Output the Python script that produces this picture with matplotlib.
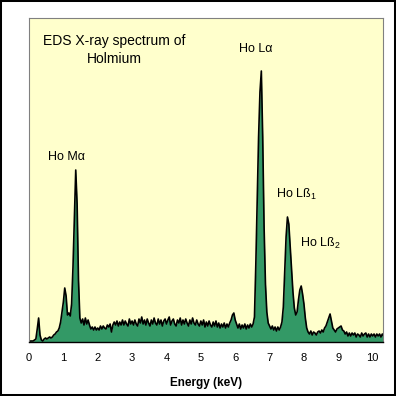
import numpy as np
import matplotlib
matplotlib.use("Agg")
import matplotlib.pyplot as plt
from matplotlib.patches import Rectangle

plt.rcParams['font.family'] = ['Liberation Sans', 'DejaVu Sans']
plt.rcParams['mathtext.fontset'] = 'custom'
plt.rcParams['mathtext.rm'] = 'Liberation Sans'
plt.rcParams['mathtext.it'] = 'Liberation Sans'

# channel width (keV) and counts, one row per keV
step = 0.04
counts = [
    0, 1, 1, 1, 2, 3, 13, 24, 7, 2, 1, 3, 4, 3, 4, 5, 4, 5, 7, 8, 10, 11, 14, 20, 30,
    40, 54, 46, 27, 29, 26, 38, 75, 123, 172, 138, 62, 24, 19, 23, 17, 24, 18, 22, 17, 13, 15, 12, 15, 12,
    14, 12, 16, 13, 16, 14, 13, 17, 15, 18, 10, 17, 20, 17, 21, 16, 20, 17, 22, 17, 21, 18, 16, 23, 18,
    21, 17, 22, 18, 16, 23, 19, 25, 18, 22, 17, 23, 19, 16, 22, 18, 24, 19, 17, 23, 18, 22, 16, 21, 23,
    18, 22, 25, 17, 21, 23, 18, 16, 22, 19, 24, 17, 22, 18, 23, 19, 16, 22, 18, 24, 19, 17, 22, 18, 16,
    21, 17, 22, 15, 20, 16, 21, 17, 15, 20, 16, 21, 15, 19, 14, 18, 15, 19, 14, 18, 15, 19, 22, 27, 29,
    22, 18, 14, 18, 13, 17, 14, 18, 13, 17, 14, 18, 15, 18, 25, 78, 140, 205, 250, 271, 205, 115, 58, 30, 19,
    16, 13, 16, 12, 15, 11, 15, 12, 15, 20, 35, 69, 105, 125, 118, 95, 72, 50, 34, 27, 30, 42, 52, 56, 48,
    38, 24, 14, 10, 8, 11, 7, 10, 9, 7, 10, 11, 9, 12, 10, 14, 16, 20, 24, 28, 21, 14, 12, 10, 13,
    14, 15, 16, 12, 11, 8, 10, 6, 9, 6, 9, 7, 9, 5, 8, 7, 5, 9, 6, 8, 9, 5, 8, 5, 8,
    6, 8, 5, 8, 6, 8, 5, 8, 6,
]
energy = np.arange(len(counts)) * step

xticks = list(range(0, 11))

# peak labels: (text, energy, height, alignment)
labels = [
    ("Ho M\u03b1", 1.08, 182, 'center'),
    ("Ho L\u03b1", 6.60, 290, 'center'),
    ("Ho L\u00df$_1$", 7.18, 144, 'left'),
    ("Ho L\u00df$_2$", 7.88, 95, 'left'),
]

fig = plt.figure(figsize=(3.96, 3.96), dpi=100)
fig.patch.set_facecolor('white')
ax = fig.add_axes([29/396, 54/396, 354/396, 324/396])
ax.set_facecolor('#FFFFCC')

ax.fill_between(energy, counts, color='#339966', lw=0)
ax.plot(energy, counts, color='black', lw=1.2)

ax.set_xlim(0, 10.3)
ax.set_ylim(0, 324)
ax.set_yticks([])
ax.set_xticks(xticks)
ax.set_xticklabels([str(t) for t in xticks])
ax.tick_params(axis='x', length=0, pad=8, labelsize=8)

for side in ['left', 'top', 'right']:
    ax.spines[side].set_color('#808080')
    ax.spines[side].set_linewidth(0.8)
ax.spines['bottom'].set_color('black')
ax.spines['bottom'].set_linewidth(1.0)

ax.set_xlabel('Energy (keV)', fontsize=8.5, fontweight='bold', labelpad=10)

for txt, x, y, ha in labels:
    ax.text(x, y, txt, fontsize=9, ha=ha, va='baseline')

fig.text(114/396, 1 - 45/396, 'EDS X-ray spectrum of', fontsize=10, ha='center', va='baseline')
fig.text(114/396, 1 - 63.3/396, 'Holmium', fontsize=10, ha='center', va='baseline')

fig.patches.append(Rectangle((0, 0), 1, 1, transform=fig.transFigure,
                             fill=False, edgecolor='black', lw=2.9))

fig.savefig('out.png', dpi=100)
